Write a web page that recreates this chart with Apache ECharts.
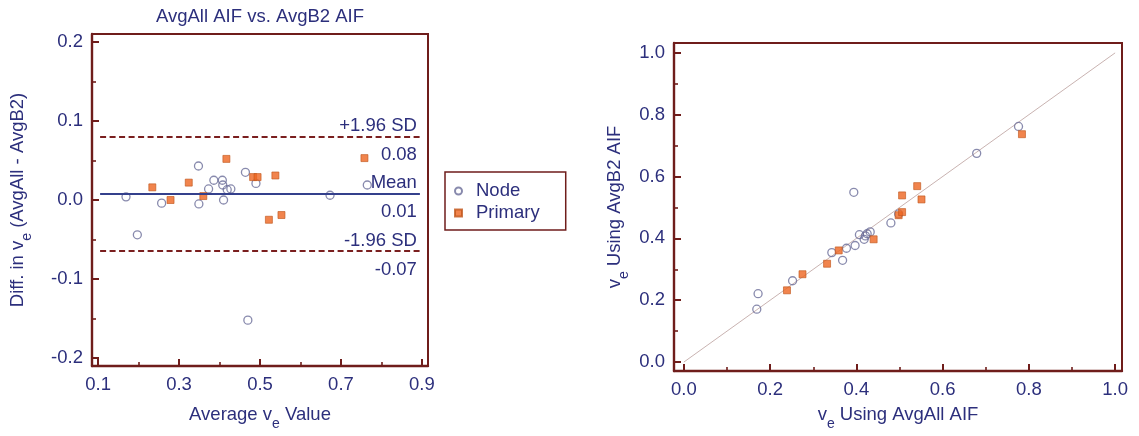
<!DOCTYPE html>
<html><head><meta charset="utf-8">
<script src="https://cdn.jsdelivr.net/npm/echarts@6/dist/echarts.min.js"></script>
<style>html,body{margin:0;padding:0;background:#fff}#c{width:1139px;height:436px}</style>
</head><body><div id="c"></div>
<script>
// ---- Left panel (Bland-Altman): average vs difference ----
const nodeAvg  = [0.169, 0.197, 0.257, 0.348, 0.349, 0.373, 0.386, 0.407, 0.408, 0.410, 0.419, 0.428, 0.464, 0.470, 0.490, 0.673, 0.765];
const nodeDiff = [0.004, -0.044, -0.004, 0.043, -0.005, 0.014, 0.025, 0.025, 0.019, 0.000, 0.013, 0.014, 0.035, -0.152, 0.021, 0.006, 0.019];
const primaryAvg  = [0.234, 0.279, 0.324, 0.360, 0.417, 0.483, 0.494, 0.522, 0.538, 0.553, 0.758];
const primaryDiff = [0.016, 0.000, 0.022, 0.005, 0.052, 0.029, 0.029, -0.025, 0.031, -0.019, 0.053];
const limitValues = [0.0805, 0.008, -0.0645];
const limitTopLabels = ['+1.96 SD', 'Mean', '-1.96 SD'];
const limitBottomLabels = ['0.08', '0.01', '-0.07'];
const limitSpan = [0.105, 0.895];

// ---- Right panel: AvgAll vs AvgB2 ----
const nodeAvgAll = [0.169, 0.172, 0.252, 0.343, 0.368, 0.377, 0.397, 0.407, 0.418, 0.425, 0.421, 0.432, 0.480, 0.394, 0.498, 0.679, 0.776];
const nodeAvgB2  = [0.171, 0.221, 0.263, 0.354, 0.329, 0.368, 0.377, 0.412, 0.397, 0.415, 0.408, 0.421, 0.450, 0.549, 0.479, 0.675, 0.762];
const primaryAvgAll = [0.239, 0.275, 0.332, 0.359, 0.440, 0.498, 0.506, 0.506, 0.541, 0.551, 0.784];
const primaryAvgB2  = [0.232, 0.284, 0.318, 0.361, 0.397, 0.475, 0.485, 0.539, 0.569, 0.526, 0.737];
const identityLine = [[0, 0], [1, 1]];

// ---- Tick labels ----
const leftXMajor = [0.1, 0.3, 0.5, 0.7, 0.9];
const leftXMinor = [0.2, 0.4, 0.6, 0.8];
const leftYMajor = [-0.2, -0.1, 0.0, 0.1, 0.2];
const leftYMinor = [-0.15, -0.05, 0.05, 0.15];
const rightMajor = [0.0, 0.2, 0.4, 0.6, 0.8, 1.0];
const rightMinor = [0.1, 0.3, 0.5, 0.7, 0.9];

const FONT = "'Liberation Sans', Arial, Helvetica, sans-serif";
const NAVY = '#2c2f7c';
const MAROON = '#6f1d1b';
const FS = 18.5;

const zip = (a, b) => a.map((v, i) => [v, b[i]]);
const richName = {
  b: {fontSize: FS, color: NAVY, fontFamily: FONT, lineHeight: 32, verticalAlign: 'middle'},
  s: {fontSize: 14, color: NAVY, fontFamily: FONT, lineHeight: 14, verticalAlign: 'bottom'}
};

function majorAxis(grid, min, max, ticks, pos, extra) {
  return Object.assign({
    type: 'value', gridIndex: grid, min: min, max: max, position: pos,
    axisLine: {show: true, onZero: false, lineStyle: {color: MAROON, width: 2.4}},
    axisTick: {show: true, inside: true, length: 7, customValues: ticks, lineStyle: {color: MAROON, width: 2}},
    axisLabel: {show: true, customValues: ticks, formatter: v => Number(v).toFixed(1), color: NAVY, fontSize: FS, fontFamily: FONT, margin: 9},
    splitLine: {show: false}
  }, extra || {});
}
function minorAxis(grid, min, max, ticks, pos) {
  return {
    type: 'value', gridIndex: grid, min: min, max: max, position: pos,
    axisLine: {show: false, onZero: false},
    axisTick: {show: true, inside: true, length: 4, customValues: ticks, lineStyle: {color: MAROON, width: 1.6}},
    axisLabel: {show: false},
    splitLine: {show: false}
  };
}

const nodeStyle = {color: 'rgba(255,255,255,0)', borderColor: '#6a6d98', borderWidth: 1.3};
const primStyle = {color: '#ee6520', borderColor: '#c0561c', borderWidth: 0.8};
const sdLine = {color: '#7a1f1f', width: 2.2, type: [6, 3.5]};
const meanLine = {color: '#34408c', width: 2, type: 'solid'};
const lblBase = {color: NAVY, fontSize: FS, fontFamily: FONT};

const markData = [];
limitValues.forEach((v, i) => {
  markData.push([
    {coord: [limitSpan[0], v], lineStyle: i === 1 ? meanLine : sdLine,
     label: Object.assign({show: true, formatter: limitTopLabels[i], position: 'insideEndTop', distance: [3, 1]}, lblBase)},
    {coord: [limitSpan[1], v]}
  ]);
  markData.push([
    {coord: [limitSpan[0], v], lineStyle: {color: 'rgba(0,0,0,0)', width: 1, type: 'solid'},
     label: Object.assign({show: true, formatter: limitBottomLabels[i], position: 'insideEndBottom', distance: [3, 9]}, lblBase)},
    {coord: [limitSpan[1], v]}
  ]);
});

const option = {
  animation: false,
  backgroundColor: '#fff',
  textStyle: {fontFamily: FONT},
  title: {text: 'AvgAll AIF vs. AvgB2 AIF', left: 260, top: 7, textAlign: 'center', padding: 0,
          textStyle: {color: NAVY, fontSize: FS, fontWeight: 'normal', fontFamily: FONT}},
  legend: {
    data: [{name: 'Node', icon: 'circle'}, {name: 'Primary', icon: 'rect'}],
    orient: 'vertical', left: 445, top: 172,
    padding: [9, 26, 7, 9], itemGap: 2, itemWidth: 7, itemHeight: 7,
    borderColor: MAROON, borderWidth: 1.5, backgroundColor: '#fff',
    textStyle: {color: NAVY, fontSize: FS, fontFamily: FONT, lineHeight: 20, padding: [0, 0, 0, 9]}
  },
  grid: [
    {left: 92, right: 711, top: 34, bottom: 69, show: true, borderColor: MAROON, borderWidth: 2, backgroundColor: 'transparent'},
    {left: 674, right: 17, top: 43, bottom: 60, show: true, borderColor: MAROON, borderWidth: 2, backgroundColor: 'transparent'}
  ],
  xAxis: [
    majorAxis(0, 0.085, 0.915, leftXMajor, 'bottom', {
      name: '{b|Average v}{s|e}{b| Value}', nameLocation: 'middle', nameGap: 33, nameTextStyle: {rich: richName}}),
    minorAxis(0, 0.085, 0.915, leftXMinor, 'bottom'),
    majorAxis(1, -0.023, 1.016, rightMajor, 'bottom', {
      name: '{b|v}{s|e}{b| Using AvgAll AIF}', nameLocation: 'middle', nameGap: 28, nameTextStyle: {rich: richName}}),
    minorAxis(1, -0.023, 1.016, rightMinor, 'bottom')
  ],
  yAxis: [
    majorAxis(0, -0.21, 0.21, leftYMajor, 'left', {
      name: '{b|Diff. in v}{s|e}{b| (AvgAll - AvgB2)}', nameLocation: 'middle', nameGap: 58, nameTextStyle: {rich: richName}}),
    minorAxis(0, -0.21, 0.21, leftYMinor, 'left'),
    majorAxis(1, -0.029, 1.032, rightMajor, 'left', {
      name: '{b|v}{s|e}{b| Using AvgB2 AIF}', nameLocation: 'middle', nameGap: 43, nameTextStyle: {rich: richName}}),
    minorAxis(1, -0.029, 1.032, rightMinor, 'left')
  ],
  series: [
    {type: 'scatter', name: 'limits', xAxisIndex: 0, yAxisIndex: 0, data: [], z: 1, silent: true,
     markLine: {silent: true, symbol: ['none', 'none'], animation: false, data: markData}},
    {type: 'scatter', name: 'Node', xAxisIndex: 0, yAxisIndex: 0, data: zip(nodeAvg, nodeDiff),
     symbol: 'circle', symbolSize: 8, itemStyle: nodeStyle, z: 3},
    {type: 'scatter', name: 'Primary', xAxisIndex: 0, yAxisIndex: 0, data: zip(primaryAvg, primaryDiff),
     symbol: 'rect', symbolSize: 7, itemStyle: primStyle, z: 4},
    {type: 'line', name: 'identity', xAxisIndex: 2, yAxisIndex: 2, data: identityLine, symbol: 'none',
     lineStyle: {color: '#c9b3b1', width: 1}, z: 1, silent: true},
    {type: 'scatter', name: 'Node', xAxisIndex: 2, yAxisIndex: 2, data: zip(nodeAvgAll, nodeAvgB2),
     symbol: 'circle', symbolSize: 8, itemStyle: nodeStyle, z: 3},
    {type: 'scatter', name: 'Primary', xAxisIndex: 2, yAxisIndex: 2, data: zip(primaryAvgAll, primaryAvgB2),
     symbol: 'rect', symbolSize: 7, itemStyle: primStyle, z: 4}
  ]
};
const chart = echarts.init(document.getElementById('c'));
chart.setOption(option);
</script></body></html>
